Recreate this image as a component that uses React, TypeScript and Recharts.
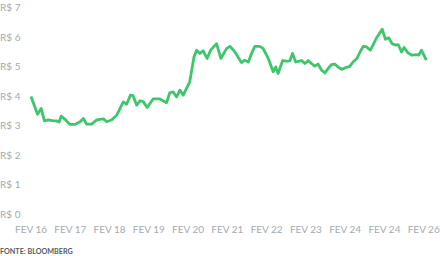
import { LineChart, Line, XAxis, YAxis } from "recharts";

// meses desde fev/2016
const meses = [
  0, 2.0, 3.1, 4.1, 5.3, 6.8, 7.8, 8.6, 9.2, 10.4, 11.9, 13.4, 15.0, 16.0, 17.0, 18.5,
  20.1, 22.1, 23.1, 24.6, 26.2, 28.2, 29.2, 30.4, 31.2, 32.3, 33.3, 34.3, 35.5, 37.3,
  39.4, 41.4, 42.4, 43.4, 44.5, 45.5, 46.5, 48.5, 49.8, 50.6, 51.6, 52.6, 53.8, 54.9,
  56.7, 58.0, 59.8, 60.8, 62.3, 64.3, 65.3, 66.4, 67.4, 68.4, 69.9, 70.9, 72.5, 74.0,
  74.8, 75.5, 76.9, 78.1, 79.1, 79.9, 80.9, 82.7, 83.7, 84.7, 85.7, 86.7, 87.7, 88.8,
  89.8, 90.8, 91.8, 92.8, 93.8, 94.9, 95.9, 97.4, 98.4, 99.6, 100.5, 101.5, 102.5,
  103.7, 104.5, 105.6, 107.3, 108.3, 109.3, 110.3, 111.4, 112.2, 113.2, 114.0, 115.2,
  116.4, 117.8, 118.5, 119.3, 120.8,
];

const valores = [
  3.97, 3.37, 3.57, 3.15, 3.18, 3.15, 3.15, 3.11, 3.31, 3.2, 3.03, 3.03, 3.12, 3.23, 3.04, 3.04,
  3.18, 3.22, 3.12, 3.18, 3.34, 3.79, 3.71, 4.02, 4.0, 3.68, 3.83, 3.8, 3.6, 3.89,
  3.89, 3.76, 4.1, 4.13, 3.96, 4.19, 4.02, 4.47, 5.31, 5.54, 5.43, 5.52, 5.26, 5.54,
  5.76, 5.26, 5.6, 5.67, 5.48, 5.12, 5.2, 5.14, 5.43, 5.67, 5.67, 5.6, 5.26, 4.81,
  4.97, 4.75, 5.19, 5.17, 5.18, 5.43, 5.14, 5.19, 5.09, 5.19, 5.09, 5.0, 5.07, 4.86,
  4.77, 4.92, 5.05, 5.07, 4.97, 4.89, 4.94, 4.99, 5.14, 5.26, 5.47, 5.67, 5.65,
  5.54, 5.71, 5.96, 6.25, 5.91, 5.96, 5.76, 5.71, 5.73, 5.48, 5.63, 5.45,
  5.37, 5.39, 5.37, 5.54, 5.2,
];

const xTicks = [0, 12, 24, 36, 48, 60, 72, 84, 96, 108, 120];
const xLabels = [
  "FEV 16", "FEV 17", "FEV 18", "FEV 19", "FEV 20", "FEV 21",
  "FEV 22", "FEV 23", "FEV 24", "FEV 24", "FEV 26",
];
const yTicks = [0, 1, 2, 3, 4, 5, 6, 7];

const data = meses.map((m, i) => ({ m, v: valores[i] }));

const FONT = "Lato, 'Noto Sans', sans-serif";
const GRAY = "#a3abb0";

const XTick = (props: any) => {
  const { x, y, index } = props;
  return (
    <text x={x} y={y + 14.5} textAnchor="middle" dominantBaseline="central" fontSize={10} fill={GRAY} fontFamily={FONT}>
      {xLabels[index]}
    </text>
  );
};

const YTick = (props: any) => {
  const { y, payload } = props;
  return (
    <text x={0} y={y} textAnchor="start" dominantBaseline="central" fontSize={10} fill={GRAY} fontFamily={FONT}>
      {`R$ ${payload.value}`}
    </text>
  );
};

export default function App() {
  return (
    <div style={{ position: "absolute", left: 0, top: 0, width: 440, height: 256, background: "#fff" }}>
      <LineChart width={440} height={256} data={data} margin={{ top: 7, right: 13, bottom: 0, left: 0 }}>
        <XAxis
          dataKey="m"
          type="number"
          domain={[0, 121]}
          ticks={xTicks}
          interval={0}
          axisLine={false}
          tickLine={false}
          tickSize={0}
          tickMargin={0}
          height={42}
          tick={<XTick />}
        />
        <YAxis
          domain={[0, 7]}
          ticks={yTicks}
          interval={0}
          axisLine={false}
          tickLine={false}
          width={31}
          tick={<YTick />}
        />
        <Line
          type="linear"
          dataKey="v"
          stroke="#3dc66b"
          strokeWidth={2.8}
          strokeLinejoin="round"
          dot={false}
          isAnimationActive={false}
        />
      </LineChart>
      <div
        style={{
          position: "absolute",
          left: 0,
          top: 247,
          fontFamily: FONT,
          fontWeight: 700,
          fontSize: 7.2,
          lineHeight: "10px",
          color: "#555b5f",
        }}
      >
        FONTE: BLOOMBERG
      </div>
    </div>
  );
}
